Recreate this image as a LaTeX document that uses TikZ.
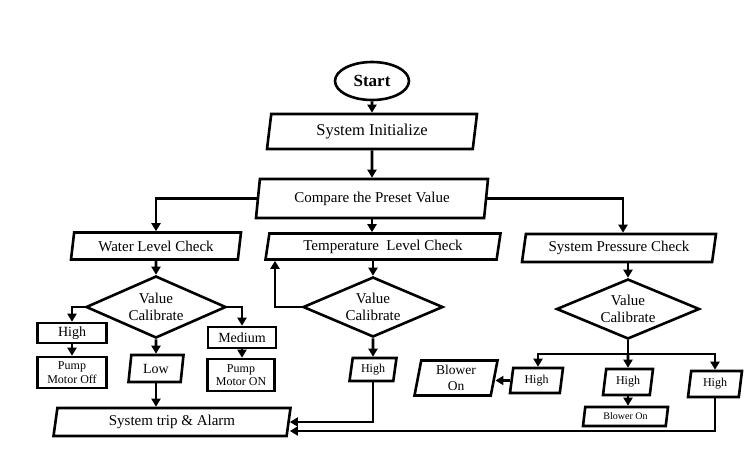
\documentclass[tikz,border=0pt]{standalone}
\usepackage{fontspec}
\setmainfont{Liberation Serif}
\usetikzlibrary{shapes.geometric, arrows.meta, calc}
\definecolor{InkBlack}{RGB}{0, 0, 0}

\begin{document}
\begin{tikzpicture}[x=1pt, y=-1pt,
    box/.style={draw=InkBlack, line width=2.6pt, inner sep=1pt, font=\fontsize{15}{17}\selectfont},
    slant/.style={box, trapezium, trapezium left angle=76, trapezium right angle=104, trapezium stretches body},
    choice/.style={box, diamond, aspect=2.2, align=center, minimum width=140pt, minimum height=62pt},
    flow/.style={InkBlack, line width=2.6pt, -{Triangle[length=8pt, width=9pt]}},
    link/.style={InkBlack, line width=2.6pt}]
    \useasboundingbox (0,0) rectangle (752,459);

    % Inicio
    \node[box, ellipse, font=\fontsize{17}{19}\selectfont\bfseries, minimum width=74pt, minimum height=38pt] (start) at (372,81) {Start};
    \node[slant, minimum width=210pt, minimum height=35pt, font=\fontsize{16.5}{19}\selectfont] (init) at (372,131.5) {System Initialize};
    \node[slant, minimum width=232pt, minimum height=39pt] (compare) at (372,198.5) {Compare the Preset Value};
    \draw[flow] (start) -- (init);
    \draw[flow] (init) -- (compare);

    % Chequeos
    \node[slant, minimum width=170pt, minimum height=27pt] (water) at (156,246) {Water Level Check};
    \node[slant, minimum width=235pt, minimum height=26pt] (temp) at (383,246.5) {Temperature\ \ Level Check};
    \node[slant, minimum width=194pt, minimum height=28pt] (pressure) at (619,248) {System Pressure Check};
    \draw[flow] (compare.west) -| (water.north);
    \draw[flow] (compare.south) -- (compare.south |- temp.north);
    \draw[flow] (compare.east) -| ([xshift=4pt]pressure.north);

    % Calibracion
    \node[choice] (wcheck) at (156,307) {Value\\Calibrate};
    \node[choice, minimum height=60pt] (tcheck) at (373,307) {Value\\Calibrate};
    \node[choice, minimum width=143pt, minimum height=60pt] (pcheck) at (628,309) {Value\\Calibrate};
    \draw[flow] (water.south) -- (wcheck.north);
    \draw[flow] (temp.south -| tcheck.north) -- (tcheck.north);
    \draw[flow] (pressure.south -| pcheck.north) -- (pcheck.north);

    % Rama agua
    \node[box, minimum width=69pt, minimum height=20pt, font=\fontsize{14}{16}\selectfont] (whigh) at (72,333) {High};
    \node[box, minimum width=69pt, minimum height=31pt, align=center, font=\fontsize{12}{13.5}\selectfont] (woff) at (72,372.5) {Pump\\Motor Off};
    \node[box, minimum width=68pt, minimum height=21pt, font=\fontsize{14}{16}\selectfont] (wmedium) at (242,337.5) {Medium};
    \node[box, minimum width=67pt, minimum height=32pt, align=center, font=\fontsize{12}{13.5}\selectfont] (won) at (241,375) {Pump\\Motor ON};
    \node[slant, minimum width=55pt, minimum height=27pt, font=\fontsize{14}{16}\selectfont] (wlow) at (156,368.5) {Low};
    \node[slant, minimum width=237pt, minimum height=28pt] (trip) at (172,422) {System trip \& Alarm};
    \draw[flow] (wcheck.west) -| (whigh.north);
    \draw[flow] (whigh) -- (woff);
    \draw[flow] (wcheck.east) -| (wmedium.north);
    \draw[flow] (wmedium.south) -- (wmedium.south |- won.north);
    \draw[flow] (wcheck.south) -- (wlow.north);
    \draw[flow] (wlow.south) -- (wlow.south |- trip.north);

    % Rama temperatura
    \node[slant, minimum width=47pt, minimum height=23pt, font=\fontsize{12}{14}\selectfont] (thigh) at (373,369.5) {High};
    \draw[flow] (tcheck.south) -- (thigh.north);
    \draw[flow] (tcheck.west) -| ([xshift=11pt]temp.bottom left corner);
    \draw[flow] (thigh.south) |- (trip.east);

    % Rama presion
    \node[slant, minimum width=83pt, minimum height=35pt, align=center, font=\fontsize{13.5}{15.5}\selectfont] (blower) at (456,378) {Blower\\On};
    \node[slant, minimum width=53pt, minimum height=25pt, font=\fontsize{12}{14}\selectfont] (phigh1) at (536.5,380.5) {High};
    \node[slant, minimum width=50pt, minimum height=26pt, font=\fontsize{12}{14}\selectfont] (phigh2) at (628,382) {High};
    \node[slant, minimum width=54pt, minimum height=26pt, font=\fontsize{12}{14}\selectfont] (phigh3) at (715,384) {High};
    \node[slant, minimum width=85pt, minimum height=19pt, font=\fontsize{10}{12}\selectfont] (pblower) at (625.5,416.5) {Blower On};
    \coordinate (pfork) at (628,354);
    \draw[link] (pcheck.south) -- (pfork);
    \draw[flow] (pfork) -- (phigh2.north);
    \draw[flow] (pfork) -| ([xshift=1.5pt]phigh1.north);
    \draw[flow] (pfork) -| (phigh3.north);
    \draw[flow] (phigh1.west) -- (phigh1.west -| blower.east);
    \draw[flow] (phigh2.south) -- (phigh2.south |- pblower.north);
    \draw[flow] (phigh3.south) |- ([yshift=-9pt]trip.east);
\end{tikzpicture}
\end{document}
